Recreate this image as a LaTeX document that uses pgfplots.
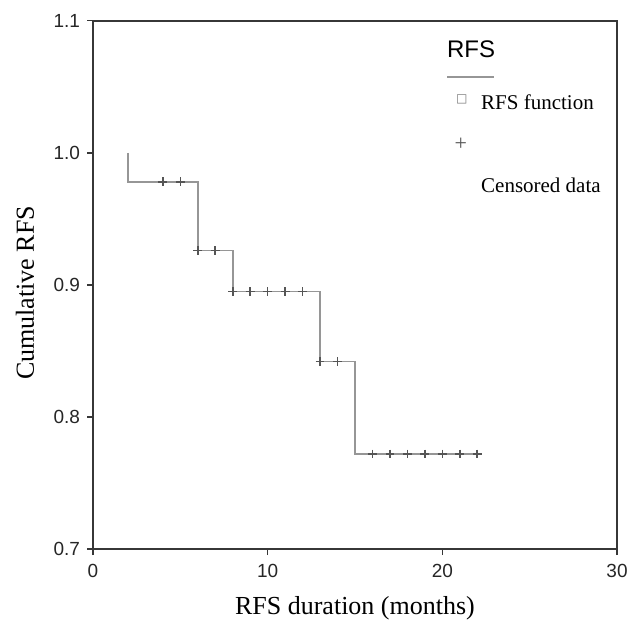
\documentclass[border=0pt]{standalone}
\usepackage{fontspec}
\setmainfont{Liberation Serif}
\setsansfont{Liberation Sans}
\newfontfamily\symfont{DejaVu Sans}
\usepackage{pgfplots}
\pgfplotsset{compat=1.18}
\usetikzlibrary{calc}

\definecolor{axisgray}{RGB}{55,55,55}
\definecolor{curvegray}{RGB}{150,150,150}
\definecolor{markgray}{RGB}{85,85,85}

\begin{document}
\begin{tikzpicture}
\begin{axis}[
  name=km,
  scale only axis,
  width=262pt, height=264.15pt,
  xmin=0, xmax=30, ymin=0.7, ymax=1.1,
  xtick={0,10,20,30},
  ytick={0.7,0.8,0.9,1.0,1.1},
  yticklabel style={/pgf/number format/.cd, fixed, fixed zerofill, precision=1},
  axis line style={color=axisgray, line width=1pt},
  tick style={color=axisgray, line width=0.8pt},
  tick align=outside,
  xtick pos=bottom, ytick pos=left,
  major tick length=3pt,
  /pgf/number format/assume math mode=true,
  ticklabel style={font=\sffamily\fontsize{9.5}{11}\selectfont, color=black!85},
  xticklabel style={yshift=-1pt},
  xlabel={RFS duration (months)},
  ylabel={Cumulative RFS},
  xlabel style={font=\fontsize{13}{15}\selectfont, at={(axis description cs:0.5,-0.112)}, anchor=center},
  ylabel style={font=\fontsize{13}{15}\selectfont, at={(axis description cs:-0.130,0.485)}, anchor=center},
  clip=false,
]
% survival function (step curve)
\addplot[color=curvegray, line width=0.9pt, mark=none] coordinates {
  (2,1.0) (2,0.978) (6,0.978) (6,0.926) (8,0.926) (8,0.895)
  (13,0.895) (13,0.842) (15,0.842) (15,0.772) (22,0.772)
};
% censored observations
\addplot[only marks, mark=+, mark size=2.2pt, color=markgray, line width=0.8pt] coordinates {
  (4,0.978) (5,0.978)
  (6,0.926) (7,0.926)
  (8,0.895) (9,0.895) (10,0.895) (11,0.895) (12,0.895)
  (13,0.842) (14,0.842)
  (16,0.772) (17,0.772) (18,0.772) (19,0.772) (20,0.772) (21,0.772) (22,0.772)
};
% legend block
\node[anchor=west, inner sep=0pt, font=\sffamily\fontsize{12}{14}\selectfont] at (rel axis cs:0.675,0.946) {RFS};
\draw[color=curvegray, line width=0.9pt] (rel axis cs:0.676,0.894) -- (rel axis cs:0.765,0.894);
\node[inner sep=0pt, font=\symfont\fontsize{6}{7}\selectfont, color=curvegray!80!black] at (rel axis cs:0.704,0.851) {□};
\node[anchor=west, inner sep=0pt, font=\fontsize{10.5}{12}\selectfont] at (rel axis cs:0.740,0.845) {RFS function};
\node[inner sep=0pt, font=\fontsize{11}{12}\selectfont, color=markgray] at (rel axis cs:0.702,0.767) {+};
\node[anchor=west, inner sep=0pt, font=\fontsize{10.5}{12}\selectfont] at (rel axis cs:0.740,0.689) {Censored data};
\coordinate (bl) at (rel axis cs:0,0);
\coordinate (tr) at (rel axis cs:1,1);
\end{axis}
\pgfresetboundingbox
\path[use as bounding box] ($(bl)+(-46.5pt,-36pt)$) rectangle ($(tr)+(5.5pt,10.35pt)$);
\end{tikzpicture}
\end{document}
